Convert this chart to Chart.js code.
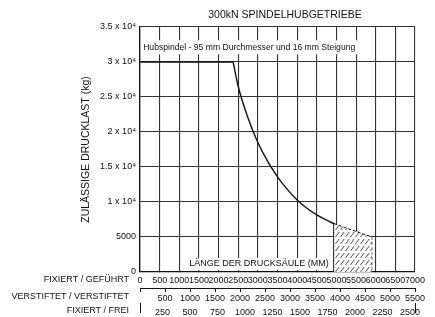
<!DOCTYPE html>
<html>
<head>
<meta charset="utf-8">
<script src="https://cdn.jsdelivr.net/npm/chart.js@4/dist/chart.umd.min.js"></script>
<style>
  body { margin: 0; background: #fff; }
  canvas { display: block; }
</style>
</head>
<body>
<canvas id="loadChart" width="435" height="317"></canvas>
<script>
// Werte
const flatLen = [0, 2370];
const flatLoad = [30000, 30000];
const curveLen = [2370, 2500, 2750, 3000, 3250, 3500, 3750, 4000, 4250, 4500, 4750, 4940];
const curveLoad = [30000, 26500, 22000, 18500, 15800, 13600, 11800, 10300, 9100, 8150, 7400, 6910];
const hatchLen = [4940, 5900];
const hatchLoad = [6910, 5000];

const yTicks = [0, 5000, 10000, 15000, 20000, 25000, 30000, 35000];
const yTickLabels = ['0', '5000', '1 x 10⁴', '1.5 x 10⁴', '2 x 10⁴', '2.5 x 10⁴', '3 x 10⁴', '3.5 x 10⁴'];
const rowNames = ['FIXIERT / GEFÜHRT', 'VERSTIFTET / VERSTIFTET', 'FIXIERT / FREI'];
const rowMax = [7000, 5500, 2500];
const rowStep = [500, 500, 250];

const FONT = "'Liberation Sans', Arial, sans-serif";
const GRID = '#333';

function pts(xs, ys) {
    return xs.map((x, i) => ({ x: x, y: ys[i] }));
}

// Schraffur fuer den Bereich rechts
function hatchPattern() {
    const c = document.createElement('canvas');
    c.width = 5; c.height = 7;
    const g = c.getContext('2d');
    g.fillStyle = '#fff';
    g.fillRect(0, 0, 5, 7);
    g.strokeStyle = '#222';
    g.lineWidth = 0.8;
    g.beginPath();
    g.moveTo(0.5, 6);
    g.lineTo(4.2, 1);
    g.stroke();
    return document.getElementById('loadChart').getContext('2d').createPattern(c, 'repeat');
}

const textPlugin = {
    id: 'texts',
    afterDatasetsDraw(chart) {
        const c = chart.ctx;
        const xs = chart.scales.x, ys = chart.scales.y;
        c.save();
        c.fillStyle = '#111';
        c.textBaseline = 'middle';

        // Titel
        c.font = '10.5px ' + FONT;
        c.textAlign = 'center';
        c.fillText('300kN SPINDELHUBGETRIEBE', 285, 15);

        // Hubspindel-Hinweis mit weissem Hintergrund
        c.font = '8.6px ' + FONT;
        c.textAlign = 'left';
        const t1 = 'Hubspindel - 95 mm Durchmesser und 16 mm Steigung';
        const x1 = xs.getPixelForValue(80), y1 = ys.getPixelForValue(32100);
        const w1 = c.measureText(t1).width;
        c.fillStyle = '#fff';
        c.fillRect(x1 - 2, y1 - 7, w1 + 4, 14);
        c.fillStyle = '#111';
        c.fillText(t1, x1, y1);

        // Achsenbeschriftung im Diagramm
        c.font = '9px ' + FONT;
        c.textAlign = 'center';
        const t2 = 'LÄNGE DER DRUCKSÄULE (MM)';
        const x2 = xs.getPixelForValue(3030), y2 = ys.getPixelForValue(1150);
        const w2 = c.measureText(t2).width;
        c.fillStyle = '#fff';
        c.fillRect(x2 - w2 / 2 - 2, y2 - 6, w2 + 4, 12);
        c.fillStyle = '#111';
        c.fillText(t2, x2, y2);

        // Namen der drei Laengenskalen
        c.textAlign = 'right';
        const rows = [chart.scales.x, chart.scales.x2, chart.scales.x3];
        const offs = [8, 9, 8];
        rows.forEach((s, i) => {
            c.fillText(rowNames[i], 129, s.top + offs[i]);
        });
        c.restore();
    }
};

const ctx = document.getElementById('loadChart').getContext('2d');

new Chart(ctx, {
    type: 'line',
    data: {
        datasets: [{
            data: pts(hatchLen, hatchLoad),
            borderColor: '#111',
            borderWidth: 1,
            borderDash: [3, 2],
            backgroundColor: hatchPattern(),
            fill: 'origin',
            pointRadius: 0
        }, {
            data: [{ x: hatchLen[1], y: hatchLoad[1] }, { x: hatchLen[1], y: 0 }],
            borderColor: '#111',
            borderWidth: 1,
            borderDash: [3, 2],
            pointRadius: 0
        }, {
            data: [{ x: hatchLen[0], y: hatchLoad[0] }, { x: hatchLen[0], y: 0 }],
            borderColor: '#111',
            borderWidth: 1,
            pointRadius: 0
        }, {
            data: pts(flatLen, flatLoad),
            borderColor: '#111',
            borderWidth: 1.5,
            pointRadius: 0
        }, {
            data: pts(curveLen, curveLoad),
            borderColor: '#111',
            borderWidth: 1.4,
            cubicInterpolationMode: 'monotone',
            pointRadius: 0
        }]
    },
    options: {
        responsive: false,
        animation: false,
        events: [],
        layout: { padding: { left: 80, right: 20, top: 27, bottom: 0 } },
        plugins: {
            legend: { display: false },
            tooltip: { enabled: false }
        },
        scales: {
            y: {
                type: 'linear',
                min: 0,
                max: 35000,
                afterBuildTicks: s => { s.ticks = yTicks.map(v => ({ value: v })); },
                afterFit: s => { s.width = 60; },
                grid: { color: GRID, lineWidth: 1.1, tickLength: 0 },
                border: { color: '#111', width: 1.3 },
                ticks: {
                    color: '#111',
                    font: { family: FONT, size: 9 },
                    padding: 4,
                    autoSkip: false,
                    callback: v => yTickLabels[yTicks.indexOf(v)]
                },
                title: {
                    display: true,
                    text: 'ZULÄSSIGE DRUCKLAST (kg)',
                    color: '#111',
                    font: { family: FONT, size: 10.5 },
                    padding: { top: 0, bottom: 0 }
                }
            },
            x: {
                type: 'linear',
                position: 'bottom',
                weight: 0,
                min: 0,
                max: rowMax[0],
                afterFit: s => { s.height = 16; },
                grid: { color: GRID, lineWidth: 1.1, tickLength: 0 },
                border: { color: '#111', width: 1.3 },
                ticks: {
                    stepSize: rowStep[0],
                    color: '#111',
                    font: { family: FONT, size: 9 },
                    padding: 3,
                    autoSkip: false,
                    maxRotation: 0,
                    callback: v => String(v)
                }
            },
            x2: {
                type: 'linear',
                position: 'bottom',
                weight: 1,
                min: 0,
                max: rowMax[1],
                afterFit: s => { s.height = 15; },
                grid: { drawOnChartArea: false, color: '#111', tickLength: 4 },
                border: { color: '#111', width: 1 },
                ticks: {
                    stepSize: rowStep[1],
                    color: '#111',
                    font: { family: FONT, size: 9 },
                    padding: 1,
                    autoSkip: false,
                    maxRotation: 0,
                    callback: v => v === 0 ? '' : String(v)
                }
            },
            x3: {
                type: 'linear',
                position: 'bottom',
                weight: 2,
                min: 0,
                max: rowMax[2],
                afterFit: s => { s.height = 14; },
                grid: {
                    drawOnChartArea: false,
                    tickLength: 10,
                    color: c => (c.tick && (c.tick.value === 0 || c.tick.value === rowMax[2])) ? '#111' : 'rgba(0,0,0,0)'
                },
                border: { display: false },
                ticks: {
                    stepSize: rowStep[2],
                    color: '#111',
                    font: { family: FONT, size: 9 },
                    padding: -6,
                    labelOffset: -5,
                    autoSkip: false,
                    maxRotation: 0,
                    callback: v => v === 0 ? '' : String(v)
                }
            }
        }
    },
    plugins: [textPlugin]
});
</script>
</body>
</html>
